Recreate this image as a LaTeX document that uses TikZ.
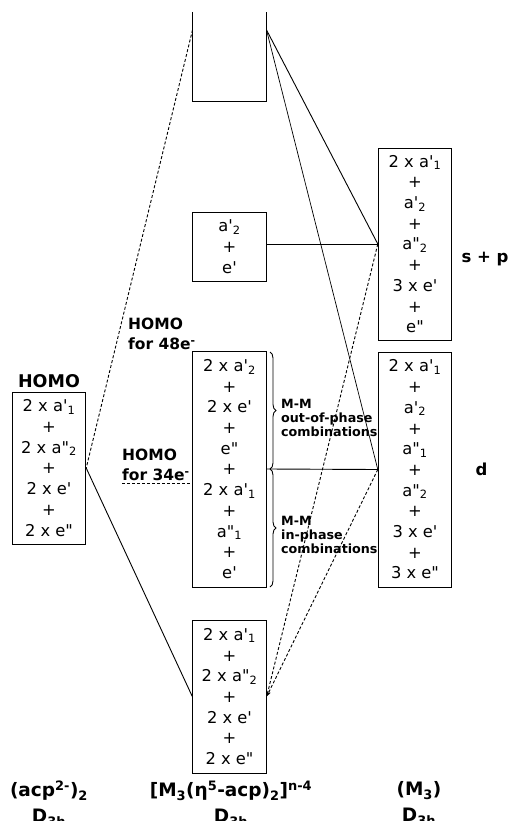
\documentclass[tikz,border=0pt]{standalone}
\usepackage{fontspec}
\setmainfont{DejaVu Sans}
\usetikzlibrary{decorations.pathreplacing,arrows.meta,calc}
\newcommand\sq{\textquotesingle}
\newcommand\dq{\textquotedbl}
\begin{document}
\begin{tikzpicture}[x=1pt,y=-1pt,
  lvl/.style={draw,line width=0.9pt,minimum width=73.5pt,inner sep=0pt,align=center,
    font={\fontsize{16.3}{20.7}\selectfont}},
  conn/.style={line width=0.9pt},
  dconn/.style={line width=0.9pt,dash pattern=on 3pt off 2pt},
  lab/.style={font={\bfseries\fontsize{15.5}{20}\selectfont},align=left,inner sep=0pt},
  small/.style={font={\bfseries\fontsize{12.7}{14}\selectfont},align=left,inner sep=0pt},
  big/.style={font={\bfseries\fontsize{18.5}{26}\selectfont},align=center,inner sep=0pt},
  brc/.style={decorate,decoration={brace,amplitude=6pt},line width=0.9pt}]
\useasboundingbox (0,0) rectangle (512,821);
% boxes
\node[minimum width=73.5pt,minimum height=89pt,inner sep=0pt] (top) at (229.5,56.5) {};
\draw[conn] (top.north west) -- (top.south west) -- (top.south east) -- (top.north east);
\coordinate (tl) at ($(top.north west)+(0,18)$);
\coordinate (tr) at ($(top.north east)+(0,18)$);
\node[lvl,minimum height=69pt] (ae) at (229.5,246.5) {a\sq\textsubscript{2}\\+\\e\sq};
\node[lvl,minimum height=236pt] (mid) at (229.5,469) {2 x a\sq\textsubscript{2}\\+\\2 x e\sq\\+\\e\dq\\+\\2 x a\sq\textsubscript{1}\\+\\a\dq\textsubscript{1}\\+\\e\sq};
\node[lvl,minimum height=153pt] (bot) at (229.5,696.5) {2 x a\sq\textsubscript{1}\\+\\2 x a\dq\textsubscript{2}\\+\\2 x e\sq\\+\\2 x e\dq};
\node[lvl,minimum height=152pt] (lb) at (49,468) {2 x a\sq\textsubscript{1}\\+\\2 x a\dq\textsubscript{2}\\+\\2 x e\sq\\+\\2 x e\dq};
\node[lvl,minimum height=192pt] (sp) at (415,244) {2 x a\sq\textsubscript{1}\\+\\a\sq\textsubscript{2}\\+\\a\dq\textsubscript{2}\\+\\3 x e\sq\\+\\e\dq};
\node[lvl,minimum height=235pt] (dd) at (415,469.5) {2 x a\sq\textsubscript{1}\\+\\a\sq\textsubscript{2}\\+\\a\dq\textsubscript{1}\\+\\a\dq\textsubscript{2}\\+\\3 x e\sq\\+\\3 x e\dq};
% labels
\node[font={\bfseries\fontsize{17.5}{20}\selectfont},inner sep=0pt] (homo) at (49,381) {HOMO};
\node[lab,anchor=west] (h48) at (128,334) {HOMO\\for 48e\textsuperscript{-}};
\node[lab,anchor=west] (h34) at (122,465) {HOMO\\for 34e\textsuperscript{-}};
\node[small,anchor=west] (oop) at (281,418) {M-M\\out-of-phase\\combinations};
\node[small,anchor=west] (inp) at (281,535) {M-M\\in-phase\\combinations};
\node[font={\bfseries\fontsize{16.5}{20}\selectfont},inner sep=0pt] (spl) at (485,259) {s + p};
\node[font={\bfseries\fontsize{16.5}{20}\selectfont},inner sep=0pt] (dl) at (481.5,469) {d};
\node[big] (c1) at (49,804) {(acp\textsuperscript{2-})\textsubscript{2}\\D\textsubscript{3h}};
\node[big] (c2) at (231,804) {[M\textsubscript{3}(η\textsuperscript{5}-acp)\textsubscript{2}]\textsuperscript{n-4}\\D\textsubscript{3h}};
\node[big] (c3) at (419,804) {(M\textsubscript{3})\\D\textsubscript{3h}};
% braces
\draw[brc] (270,352) -- (270,469);
\draw[brc] (270,469) -- (270,587);
% connectors
\draw[dconn] (tl) -- (lb.east);
\draw[conn] (lb.east) -- (bot.west);
\draw[conn] (tr) -- (sp.west);
\draw[conn,line width=0.7pt] (tr) -- (dd.west);
\draw[conn] (ae.east |- sp.west) -- (sp.west);
\draw[conn] (mid.east) -- (dd.west);
\draw[dconn,-{Stealth[length=5pt,width=3.5pt]}] (sp.west) -- (bot.east);
\draw[dconn,-{Stealth[length=5pt,width=3.5pt]}] (dd.west) -- (bot.east);
\coordinate (h34s) at (122,483);
\draw[dconn] (h34s) -- (h34s -| mid.west);
\end{tikzpicture}
\end{document}
